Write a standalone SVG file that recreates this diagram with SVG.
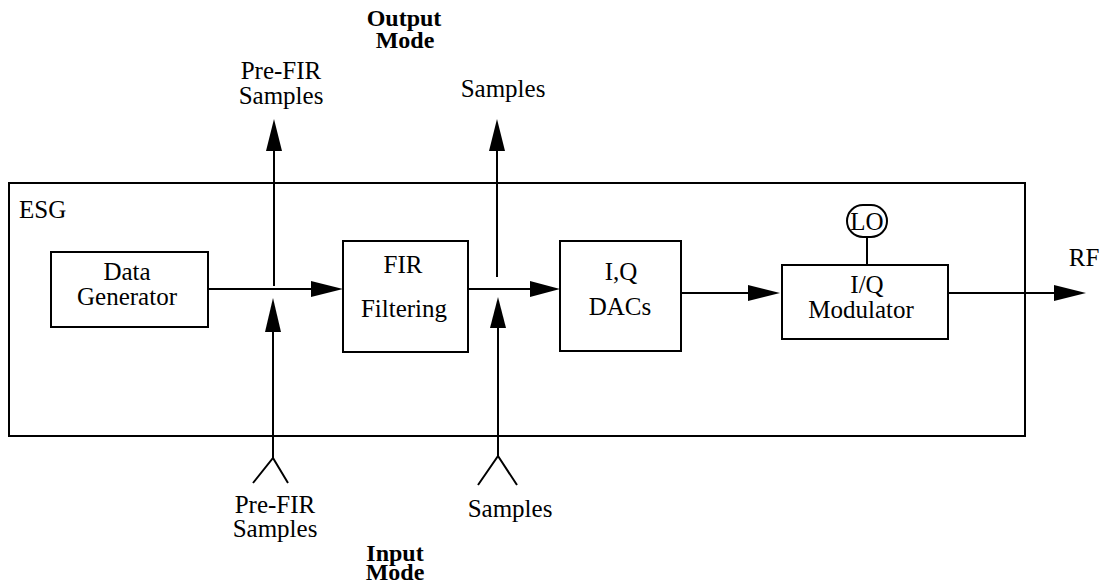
<svg xmlns="http://www.w3.org/2000/svg" width="1109" height="586" viewBox="0 0 1109 586">
<style>
.box{fill:none;stroke:#000;stroke-width:2}
.ln{fill:none;stroke:#000;stroke-width:2}
.ah{fill:#000;stroke:none}
.t{font-family:'Liberation Serif','DejaVu Serif',serif;font-size:25px;font-weight:normal;fill:#000}
.c{text-anchor:middle}
.b{font-weight:bold;font-size:24px}
</style>
<rect width="1109" height="586" fill="#fff"/>
<g id="esg">
<rect class="box" x="9" y="183" width="1016" height="253"/>
<text class="t" x="19" y="218">ESG</text>
</g>
<g id="data-generator">
<rect class="box" x="51" y="252" width="157" height="75"/>
<text class="t c" x="127" y="280">Data</text>
<text class="t c" x="127" y="305">Generator</text>
</g>
<g id="fir">
<rect class="box" x="343" y="241" width="125" height="111"/>
<text class="t c" x="403" y="273">FIR</text>
<text class="t c" x="404" y="317">Filtering</text>
</g>
<g id="dacs">
<rect class="box" x="560" y="241" width="121" height="110"/>
<text class="t c" x="621" y="280">I,Q</text>
<text class="t c" x="620" y="315">DACs</text>
</g>
<g id="modulator">
<rect class="box" x="782" y="265" width="166" height="74"/>
<text class="t c" x="867" y="293">I/Q</text>
<text class="t c" x="861" y="318">Modulator</text>
</g>
<g id="lo">
<rect class="box" x="847" y="205" width="40" height="32" rx="16" ry="16"/>
<text class="t c" x="867" y="230">LO</text>
</g>
<g id="labels">
<text class="t c b" x="404" y="26">Output</text>
<text class="t c b" x="405" y="48">Mode</text>
<text class="t c" x="281" y="79">Pre-FIR</text>
<text class="t c" x="281" y="104">Samples</text>
<text class="t c" x="503" y="97">Samples</text>
<text class="t c" x="1084" y="266">RF</text>
<text class="t c" x="275" y="513">Pre-FIR</text>
<text class="t c" x="275" y="537">Samples</text>
<text class="t c" x="510" y="517">Samples</text>
<text class="t c b" x="395" y="561">Input</text>
<text class="t c b" x="395" y="580">Mode</text>
</g>
<g id="connectors">
<line class="ln" x1="208" y1="289" x2="312" y2="289"/>
<polygon class="ah" points="343,289 311,281 311,297"/>
<line class="ln" x1="468" y1="289" x2="532" y2="289"/>
<polygon class="ah" points="560,289 530,281 530,297"/>
<line class="ln" x1="681" y1="293" x2="750" y2="293"/>
<polygon class="ah" points="780,293 748,285 748,301"/>
<line class="ln" x1="948" y1="293" x2="1056" y2="293"/>
<polygon class="ah" points="1086,293 1054,285 1054,301"/>
<line class="ln" x1="867" y1="237" x2="867" y2="265"/>
<line class="ln" x1="274" y1="148" x2="274" y2="286"/>
<polygon class="ah" points="274,119 266,151 282,151"/>
<line class="ln" x1="497" y1="148" x2="497" y2="277"/>
<polygon class="ah" points="497,119 489,151 505,151"/>
<line class="ln" x1="273" y1="330" x2="273" y2="458"/>
<polygon class="ah" points="273,298 265,332 281,332"/>
<polyline class="ln" points="253,483 273,458 288,483"/>
<line class="ln" x1="498" y1="326" x2="498" y2="456"/>
<polygon class="ah" points="498,297 490,328 506,328"/>
<polyline class="ln" points="478,485 498,456 517,485"/>
</g>
</svg>
